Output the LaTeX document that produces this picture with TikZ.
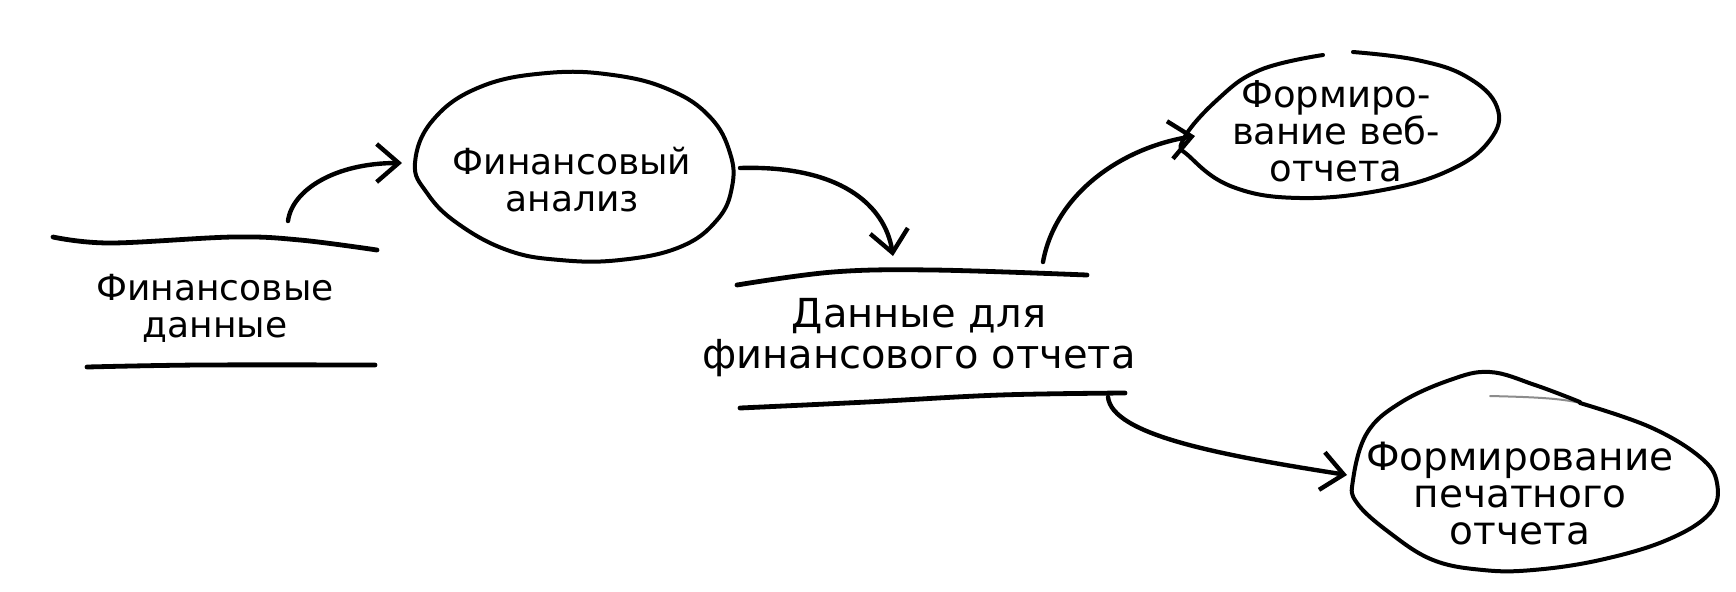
\documentclass[tikz,border=0pt]{standalone}
\usepackage{fontspec}
\setmainfont{DejaVu Sans}
\usetikzlibrary{arrows.meta}
\definecolor{pencil}{gray}{0.55}
\begin{document}
\begin{tikzpicture}[x=0.5pt,y=-0.5pt,
  txt/.style={align=center, inner sep=0pt, font=\fontsize{18}{18.5}\selectfont},
  storeline/.style={line width=2.4pt, line cap=round, line join=round},
  outline/.style={line width=2pt, line cap=round, line join=round},
  flow/.style={line width=2.2pt, line cap=round,
    -{Straight Barb[length=11pt,width=19pt,line width=2.2pt]}},
]
\useasboundingbox[fill=white] (0,0) rectangle (1736,591);

% ---------- data store: financial data ----------
\node[txt] (fd) at (215,308) {Финансовые\\данные};
\draw[storeline] plot[smooth, tension=0.6] coordinates
  {(53,237) (110,243) (233,237) (300,240) (377,250)};
\draw[storeline] plot[smooth, tension=0.6] coordinates
  {(87,367) (200,365) (375,365)};

% ---------- process: financial analysis ----------
\node[txt] (fa) at (572,180) {Финансовый\\анализ};
\draw[outline] plot[smooth cycle, tension=0.7] coordinates
  {(415,163) (433,120) (480,87) (547,73) (613,75) (670,90) (710,117)
   (730,153) (732,187) (717,220) (680,247) (620,260) (560,260)
   (507,250) (457,223) (427,193)};

% ---------- data store: report data ----------
\node[txt, font=\fontsize{20}{20.5}\selectfont] (ds) at (919,338)
  {Данные для\\финансового отчета};
\draw[storeline] plot[smooth, tension=0.6] coordinates
  {(737,285) (833,272) (933,270) (1087,275)};
\draw[storeline] plot[smooth, tension=0.6] coordinates
  {(740,408) (867,402) (1000,395) (1125,393)};

% ---------- process: web report ----------
\node[txt, font=\fontsize{18.5}{18.5}\selectfont] (web) at (1336,131)
  {Формиро-\\вание веб-\\отчета};
\draw[outline] plot[smooth, tension=0.7] coordinates
  {(1353,52) (1417,60) (1467,77) (1497,107) (1490,140) (1450,170)
   (1383,190) (1300,198) (1233,187) (1190,157) (1183,140) (1217,100)
   (1260,70) (1323,55)};

% ---------- process: printed report ----------
\node[txt, font=\fontsize{19.5}{18.5}\selectfont] (prn) at (1520,494)
  {Формирование\\печатного\\отчета};
% light pencil lead-in of the outline
\draw[pencil, line width=1pt, line cap=round]
  (1490,396) .. controls (1530,397) and (1560,398) .. (1580,403);
\draw[outline] plot[smooth, tension=0.65] coordinates
  {(1580,403) (1650,427) (1700,457) (1717,483) (1710,513)
   (1667,540) (1600,560) (1533,570) (1483,570) (1433,560) (1390,533)
   (1357,503) (1353,480) (1367,433) (1400,403) (1450,380) (1490,372)
   (1535,385) (1580,402)};

% ---------- connector ends ----------
\coordinate (fd-out)  at (288,221);
\coordinate (fa-in)   at (402,163);
\coordinate (fa-out)  at (740,168);
\coordinate (ds-in)   at (893,256);
\coordinate (ds-out1) at (1043,262);
\coordinate (web-in)  at (1195,136);
\coordinate (ds-out2) at (1108,397);
\coordinate (prn-in)  at (1347,475);

% ---------- flows ----------
\draw[flow] (fd-out) .. controls (292,190) and (335,163) .. (fa-in);
\draw[flow] (fa-out) .. controls (840,165) and (885,205) .. (ds-in);
\draw[flow] (ds-out1) .. controls (1055,195) and (1120,148) .. (web-in);
\draw[flow] (ds-out2) .. controls (1112,435) and (1220,455) .. (prn-in);
\end{tikzpicture}
\end{document}
